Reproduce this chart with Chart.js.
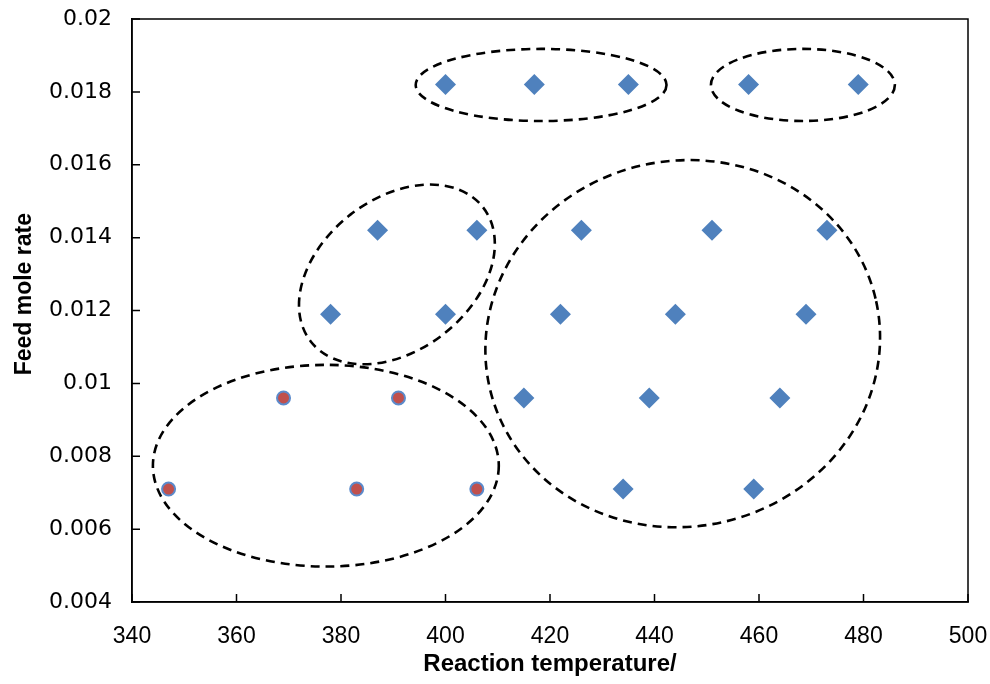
<!DOCTYPE html>
<html>
<head>
<meta charset="utf-8">
<script src="https://cdn.jsdelivr.net/npm/chart.js@4/dist/chart.umd.min.js"></script>
<style>
  html, body { margin: 0; padding: 0; background: #fff; }
  #wrap { width: 990px; height: 684px; position: relative; }
</style>
</head>
<body>
<div id="wrap"><canvas id="c" width="990" height="684"></canvas></div>
<script>
// Blue diamonds (reaction temperature, feed mole rate)
const blueTemps = [400, 417, 435, 458, 479, 387, 406, 426, 451, 473, 378, 400, 422, 444, 469, 415, 439, 464, 434, 459];
const blueRates = [0.0182, 0.0182, 0.0182, 0.0182, 0.0182, 0.0142, 0.0142, 0.0142, 0.0142, 0.0142, 0.0119, 0.0119, 0.0119, 0.0119, 0.0119, 0.0096, 0.0096, 0.0096, 0.0071, 0.0071];
// Red circles
const redTemps = [369, 391, 347, 383, 406];
const redRates = [0.0096, 0.0096, 0.0071, 0.0071, 0.0071];
// Axis ticks
const xTicks = [340, 360, 380, 400, 420, 440, 460, 480, 500];
const yTicks = [0.004, 0.006, 0.008, 0.01, 0.012, 0.014, 0.016, 0.018, 0.02];
// Titles
const xTitle = 'Reaction temperature/';
const yTitle = 'Feed mole rate';
// Dashed cluster ellipses: centre (data), semi-axes (x-axis units), tilt (deg)
const ellipseCx = [418.3, 468.4, 390.7, 445.4, 377.1];
const ellipseCy = [0.01819, 0.01819, 0.01299, 0.01109, 0.00774];
const ellipseA = [24.0, 17.6, 20.9, 37.9, 33.1];
const ellipseB = [6.9, 6.9, 14.5, 35.0, 19.3];
const ellipseTilt = [0, 0, 37.9, 12.4, 0];

const toPts = (xs, ys) => xs.map((x, i) => ({ x: x, y: ys[i] }));

const ellipsePlugin = {
  id: 'ellipses',
  afterDatasetsDraw(chart) {
    const { ctx, scales: { x, y } } = chart;
    const pxPerX = Math.abs(x.getPixelForValue(1) - x.getPixelForValue(0));
    ctx.save();
    ctx.strokeStyle = '#000';
    ctx.lineWidth = 2.6;
    ctx.setLineDash([9, 6]);
    ellipseCx.forEach((cx, i) => {
      ctx.beginPath();
      ctx.ellipse(x.getPixelForValue(cx), y.getPixelForValue(ellipseCy[i]),
        ellipseA[i] * pxPerX, ellipseB[i] * pxPerX, -ellipseTilt[i] * Math.PI / 180, 0, 2 * Math.PI);
      ctx.stroke();
    });
    ctx.restore();
  }
};

const boxPlugin = {
  id: 'box',
  afterDraw(chart) {
    const { ctx, chartArea: a, scales: { x, y } } = chart;
    ctx.save();
    ctx.strokeStyle = '#000';
    ctx.lineWidth = 1.5;
    ctx.setLineDash([]);
    ctx.strokeRect(a.left, a.top, a.right - a.left, a.bottom - a.top);
    // inward tick marks
    ctx.beginPath();
    x.ticks.forEach(t => {
      const px = x.getPixelForValue(t.value);
      ctx.moveTo(px, a.bottom);
      ctx.lineTo(px, a.bottom - 8);
    });
    y.ticks.forEach(t => {
      const py = y.getPixelForValue(t.value);
      ctx.moveTo(a.left, py);
      ctx.lineTo(a.left + 8, py);
    });
    ctx.stroke();
    // y-axis title
    ctx.translate(25, a.top + (a.bottom - a.top) * 0.472);
    ctx.rotate(-Math.PI / 2);
    ctx.fillStyle = '#000';
    ctx.font = "bold 23px 'Liberation Sans', Arial, sans-serif";
    ctx.textAlign = 'center';
    ctx.textBaseline = 'middle';
    ctx.fillText(yTitle, 0, 0);
    ctx.restore();
  }
};

new Chart(document.getElementById('c'), {
  type: 'scatter',
  data: {
    datasets: [
      {
        label: 'Blue',
        data: toPts(blueTemps, blueRates),
        pointStyle: 'rectRot',
        pointRadius: 10.5,
        pointHoverRadius: 10.5,
        backgroundColor: '#4F81BD',
        borderColor: '#4F81BD',
        borderWidth: 0
      },
      {
        label: 'Red',
        data: toPts(redTemps, redRates),
        pointStyle: 'circle',
        pointRadius: 6.5,
        pointHoverRadius: 6.5,
        backgroundColor: '#C0504D',
        borderColor: '#5B8ACB',
        borderWidth: 2
      }
    ]
  },
  options: {
    responsive: false,
    animation: false,
    events: [],
    layout: { padding: { top: 19, right: 22, left: 0, bottom: 0 } },
    plugins: { legend: { display: false }, tooltip: { enabled: false } },
    scales: {
      x: {
        type: 'linear',
        min: 340, max: 500,
        afterBuildTicks: (s) => { s.ticks = xTicks.map(v => ({ value: v })); },
        afterFit: (s) => { s.height = 82; },
        grid: { display: true, drawOnChartArea: false, drawTicks: true, tickLength: 21, tickColor: 'rgba(0,0,0,0)', color: 'rgba(0,0,0,0)' },
        border: { display: true, color: '#000', width: 1.5 },
        ticks: { color: '#000', padding: 0, font: { family: "'Liberation Sans', Arial, sans-serif", size: 23 }, maxRotation: 0 },
        title: { display: true, text: xTitle, color: '#000', padding: { top: 0, bottom: 5 }, font: { family: "'Liberation Sans', Arial, sans-serif", size: 24, weight: 'bold' } }
      },
      y: {
        type: 'linear',
        min: 0.004, max: 0.02,
        afterBuildTicks: (s) => { s.ticks = yTicks.map(v => ({ value: v })); },
        afterFit: (s) => { s.width = 132; },
        grid: { display: true, drawOnChartArea: false, drawTicks: true, tickLength: 20, tickColor: 'rgba(0,0,0,0)', color: 'rgba(0,0,0,0)' },
        border: { display: true, color: '#000', width: 1.5 },
        ticks: { color: '#000', padding: 0, font: { family: "'DejaVu Sans', sans-serif", size: 22 }, callback: (v) => String(+v.toFixed(3)) },
        title: { display: false }
      }
    }
  },
  plugins: [ellipsePlugin, boxPlugin]
});
</script>
</body>
</html>
